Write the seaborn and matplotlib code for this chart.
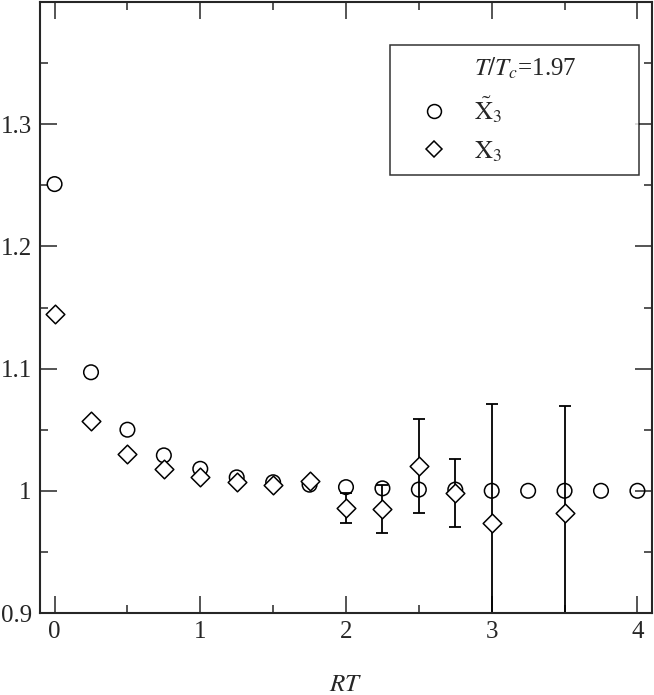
import numpy as np
import pandas as pd
import matplotlib
matplotlib.use('Agg')
import matplotlib.pyplot as plt
from matplotlib import font_manager
from matplotlib.lines import Line2D
from matplotlib.ticker import MultipleLocator
import seaborn as sns

# Data
rt_tilde = [0.0, 0.25, 0.5, 0.75, 1.0, 1.25, 1.5, 1.75, 2.0, 2.25, 2.5, 2.75, 3.0, 3.25, 3.5, 3.75, 4.0]
x3_tilde = [1.251, 1.097, 1.050, 1.029, 1.018, 1.011, 1.007, 1.005, 1.003, 1.002, 1.001, 1.001,
            1.000, 1.000, 1.000, 1.000, 1.000]

rt_x3 = [0.0, 0.25, 0.5, 0.75, 1.0, 1.25, 1.5, 1.75, 2.0, 2.25, 2.5, 2.75, 3.0, 3.5]
x3 = [1.145, 1.057, 1.030, 1.018, 1.0115, 1.007, 1.005, 1.008, 0.986, 0.985, 1.020, 0.998, 0.974, 0.982]
x3_err = [0.0, 0.0, 0.0, 0.0, 0.0, 0.0, 0.0, 0.0, 0.012, 0.0195, 0.0385, 0.028, 0.097, 0.087]

x_ticks = [0, 1, 2, 3, 4]
y_ticks = [0.9, 1.0, 1.1, 1.2, 1.3]
y_ticklabels = ['0.9', '1', '1.1', '1.2', '1.3']

sns.set_style('ticks')
names = sorted({f.name for f in font_manager.fontManager.ttflist})
serif = [n for n in ['Liberation Serif', 'Times New Roman', 'Nimbus Roman', 'DejaVu Serif'] if n in names]
plt.rcParams['font.family'] = serif
plt.rcParams['mathtext.fontset'] = 'stix'

df_t = pd.DataFrame({'RT': rt_tilde, 'val': x3_tilde})
df_x = pd.DataFrame({'RT': rt_x3, 'val': x3, 'err': x3_err})

fig = plt.figure(figsize=(6.54, 6.95), dpi=100)
ax = fig.add_axes([40 / 654, 82 / 695, 612 / 654, 611 / 695])

# error bars first so markers sit on top
ax.errorbar(df_x['RT'], df_x['val'], yerr=df_x['err'], fmt='none', ecolor='black',
            elinewidth=1.3, capsize=4, capthick=1.3, zorder=1)

sns.scatterplot(data=df_t, x='RT', y='val', marker='o', s=110, facecolor='none',
                edgecolor='black', linewidth=1.1, ax=ax, zorder=3)
sns.scatterplot(data=df_x, x='RT', y='val', marker='D', s=90, facecolor='white',
                edgecolor='black', linewidth=1.1, ax=ax, zorder=4)

ax.set_xlim(-0.1, 4.1)
ax.set_ylim(0.9, 1.4)
ax.set_xticks(x_ticks)
ax.set_xticklabels([str(t) for t in x_ticks])
ax.xaxis.set_minor_locator(MultipleLocator(0.5))
ax.set_yticks(y_ticks)
ax.set_yticklabels(y_ticklabels)
ax.yaxis.set_minor_locator(MultipleLocator(0.05))
ax.tick_params(which='both', direction='in', top=True, right=True, width=1.1, labelsize=18)
ax.tick_params(which='major', length=12, pad=6)
ax.tick_params(which='minor', length=6)
for sp in ax.spines.values():
    sp.set_linewidth(1.5)

ax.set_xlabel('$RT$', fontsize=18, labelpad=22)
ax.set_ylabel('')

handles = [
    Line2D([], [], linestyle='none', marker=None),
    Line2D([], [], linestyle='none', marker='o', markersize=10, markerfacecolor='none',
           markeredgecolor='black', markeredgewidth=1.1),
    Line2D([], [], linestyle='none', marker='D', markersize=8.5, markerfacecolor='white',
           markeredgecolor='black', markeredgewidth=1.1),
]
labels = ['$T/T_c$=1.97', r'$\tilde{\mathrm{X}}_3$', r'$\mathrm{X}_3$']
leg = ax.legend(handles, labels, loc='upper left', bbox_to_anchor=(0.572, 0.725, 0.407, 0.205),
                mode='expand', borderaxespad=0, frameon=True, fancybox=False,
                edgecolor='black', fontsize=18, handlelength=2.6, handletextpad=0.3,
                borderpad=0.45, labelspacing=0.55)
leg.get_frame().set_linewidth(1.1)

fig.savefig('out.png', dpi=100)
